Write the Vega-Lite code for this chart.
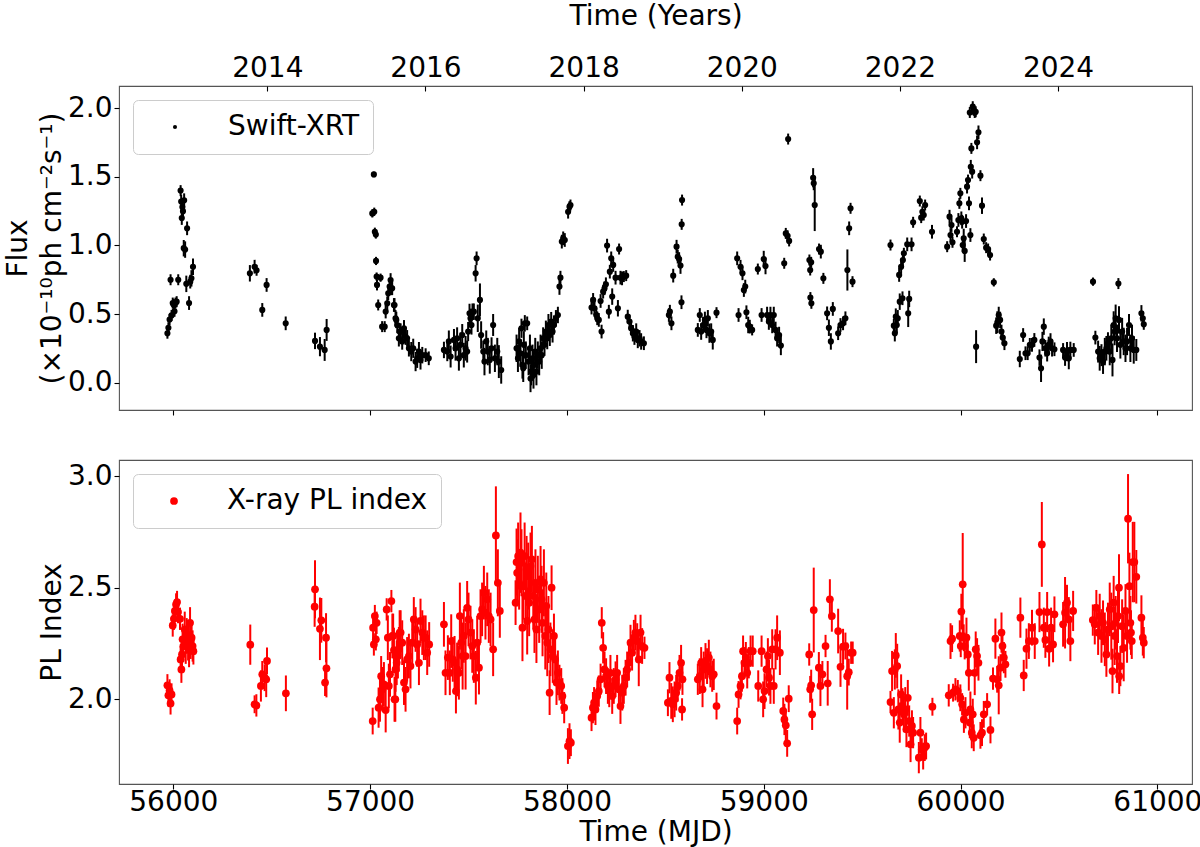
{
"$schema": "https://vega.github.io/schema/vega-lite/v6.json",
"background": "white",
"padding": {"left": 4, "top": 2, "right": 0, "bottom": 0},
"config": {
  "font": "DejaVu Sans",
  "view": {"stroke": "#555555", "strokeWidth": 1.1},
  "axis": {"labelFont": "DejaVu Sans", "labelFontSize": 28, "labelColor": "black", "titleFont": "DejaVu Sans", "titleFontSize": 28, "titleFontWeight": "normal", "titleColor": "black", "tickColor": "black", "tickSize": 5, "tickWidth": 1.1, "domain": false, "grid": false, "labelPadding": 2, "titlePadding": 1, "titleLineHeight": 33.5},
  "legend": {"labelFont": "DejaVu Sans", "labelFontSize": 28, "labelColor": "black", "labelLimit": 500, "orient": "top-left", "offset": 14, "padding": 13, "strokeColor": "#cccccc", "strokeWidth": 1, "cornerRadius": 5, "fillColor": "white", "symbolType": "circle", "symbolStrokeWidth": 0, "labelOffset": 39}
},
"datasets": {
"flux": [
{"t":55970,"f":0.36,"e":0.04},{"t":55975,"f":0.40,"e":0.04},{"t":55981,"f":0.46,"e":0.04},{"t":55986,"f":0.75,"e":0.04},{"t":55991,"f":0.49,"e":0.04},{"t":55997,"f":0.58,"e":0.04},{"t":56001,"f":0.57,"e":0.04},{"t":56006,"f":0.52,"e":0.04},{"t":56011,"f":0.58,"e":0.04},{"t":56017,"f":0.59,"e":0.04},{"t":56025,"f":0.75,"e":0.04},{"t":56037,"f":1.40,"e":0.04},{"t":56040,"f":1.32,"e":0.05},{"t":56043,"f":1.20,"e":0.05},{"t":56046,"f":1.28,"e":0.05},{"t":56049,"f":1.25,"e":0.05},{"t":56053,"f":0.98,"e":0.06},{"t":56055,"f":1.33,"e":0.05},{"t":56060,"f":0.97,"e":0.06},{"t":56066,"f":0.72,"e":0.06},{"t":56070,"f":1.125,"e":0.05},{"t":56080,"f":0.58,"e":0.05},{"t":56086,"f":0.736,"e":0.05},{"t":56092,"f":0.76,"e":0.06},{"t":56100,"f":0.845,"e":0.06},
{"t":56389,"f":0.797,"e":0.06},{"t":56413,"f":0.845,"e":0.05},{"t":56423,"f":0.819,"e":0.04},{"t":56452,"f":0.53,"e":0.05},{"t":56474,"f":0.712,"e":0.05},{"t":56571,"f":0.432,"e":0.05},{"t":56720,"f":0.304,"e":0.06},{"t":56745,"f":0.262,"e":0.07},{"t":56769,"f":0.238,"e":0.08},{"t":56779,"f":0.384,"e":0.08},
{"t":57011,"f":1.234,"e":0.03},{"t":57019,"f":1.518,"e":0.02},{"t":57021,"f":1.246,"e":0.03},{"t":57024,"f":1.10,"e":0.03},{"t":57029,"f":1.08,"e":0.03},{"t":57030,"f":0.887,"e":0.03},{"t":57033,"f":0.773,"e":0.03},{"t":57035,"f":0.712,"e":0.04},{"t":57041,"f":0.566,"e":0.04},{"t":57053,"f":0.765,"e":0.03},{"t":57061,"f":0.408,"e":0.04},{"t":57074,"f":0.408,"e":0.04},{"t":57079,"f":0.518,"e":0.05},{"t":57087,"f":0.578,"e":0.05},{"t":57092,"f":0.651,"e":0.05},{"t":57099,"f":0.70,"e":0.05},{"t":57104,"f":0.748,"e":0.05},{"t":57109,"f":0.688,"e":0.05},{"t":57112,"f":0.688,"e":0.05},{"t":57121,"f":0.566,"e":0.05},{"t":57124,"f":0.566,"e":0.05},{"t":57129,"f":0.469,"e":0.06},{"t":57133,"f":0.457,"e":0.06},{"t":57138,"f":0.42,"e":0.06},{"t":57146,"f":0.323,"e":0.06},{"t":57150,"f":0.372,"e":0.06},{"t":57155,"f":0.372,"e":0.06},{"t":57163,"f":0.30,"e":0.06},{"t":57172,"f":0.396,"e":0.06},{"t":57180,"f":0.335,"e":0.06},{"t":57188,"f":0.323,"e":0.06},{"t":57197,"f":0.25,"e":0.06},{"t":57209,"f":0.226,"e":0.07},{"t":57219,"f":0.25,"e":0.07},{"t":57231,"f":0.153,"e":0.07},{"t":57239,"f":0.177,"e":0.07},{"t":57248,"f":0.226,"e":0.07},{"t":57256,"f":0.165,"e":0.07},{"t":57265,"f":0.20,"e":0.06},{"t":57282,"f":0.20,"e":0.05},{"t":57298,"f":0.177,"e":0.05},
{"t":57375,"f":0.238,"e":0.06},{"t":57392,"f":0.226,"e":0.07},{"t":57400,"f":0.30,"e":0.08},{"t":57409,"f":0.19,"e":0.08},{"t":57426,"f":0.311,"e":0.08},{"t":57434,"f":0.25,"e":0.09},{"t":57442,"f":0.323,"e":0.08},{"t":57451,"f":0.177,"e":0.09},{"t":57459,"f":0.275,"e":0.09},{"t":57468,"f":0.347,"e":0.08},{"t":57476,"f":0.20,"e":0.09},{"t":57485,"f":0.25,"e":0.09},{"t":57493,"f":0.226,"e":0.08},{"t":57498,"f":0.372,"e":0.07},{"t":57505,"f":0.505,"e":0.07},{"t":57510,"f":0.469,"e":0.07},{"t":57515,"f":0.42,"e":0.07},{"t":57520,"f":0.517,"e":0.06},{"t":57527,"f":0.517,"e":0.06},{"t":57536,"f":0.797,"e":0.06},{"t":57541,"f":0.906,"e":0.05},{"t":57547,"f":0.469,"e":0.1},{"t":57558,"f":0.603,"e":0.12},{"t":57564,"f":0.347,"e":0.1},{"t":57575,"f":0.226,"e":0.08},{"t":57581,"f":0.153,"e":0.1},{"t":57590,"f":0.30,"e":0.08},{"t":57598,"f":0.226,"e":0.1},{"t":57608,"f":0.165,"e":0.1},{"t":57617,"f":0.25,"e":0.08},{"t":57625,"f":0.42,"e":0.08},{"t":57634,"f":0.177,"e":0.1},{"t":57646,"f":0.226,"e":0.1},{"t":57654,"f":0.153,"e":0.12},{"t":57666,"f":0.092,"e":0.1},
{"t":57744,"f":0.25,"e":0.1},{"t":57751,"f":0.177,"e":0.1},{"t":57757,"f":0.30,"e":0.1},{"t":57764,"f":0.214,"e":0.1},{"t":57769,"f":0.396,"e":0.07},{"t":57774,"f":0.129,"e":0.1},{"t":57778,"f":0.104,"e":0.1},{"t":57781,"f":0.275,"e":0.1},{"t":57786,"f":0.432,"e":0.06},{"t":57791,"f":0.20,"e":0.1},{"t":57798,"f":0.432,"e":0.05},{"t":57805,"f":0.153,"e":0.1},{"t":57812,"f":0.25,"e":0.1},{"t":57815,"f":0.03,"e":0.1},{"t":57818,"f":0.08,"e":0.1},{"t":57825,"f":0.177,"e":0.1},{"t":57830,"f":0.056,"e":0.1},{"t":57832,"f":0.129,"e":0.1},{"t":57839,"f":0.226,"e":0.1},{"t":57845,"f":0.08,"e":0.1},{"t":57852,"f":0.20,"e":0.1},{"t":57859,"f":0.153,"e":0.1},{"t":57866,"f":0.25,"e":0.1},{"t":57872,"f":0.20,"e":0.1},{"t":57879,"f":0.323,"e":0.08},{"t":57886,"f":0.275,"e":0.08},{"t":57893,"f":0.372,"e":0.08},{"t":57900,"f":0.323,"e":0.08},{"t":57906,"f":0.42,"e":0.08},{"t":57913,"f":0.347,"e":0.08},{"t":57920,"f":0.445,"e":0.07},{"t":57927,"f":0.372,"e":0.08},{"t":57934,"f":0.42,"e":0.07},{"t":57944,"f":0.469,"e":0.06},{"t":57954,"f":0.493,"e":0.06},{"t":57962,"f":0.70,"e":0.06},{"t":57967,"f":0.765,"e":0.05},{"t":57974,"f":1.028,"e":0.05},{"t":57981,"f":1.052,"e":0.05},{"t":57989,"f":1.04,"e":0.05},{"t":58006,"f":1.246,"e":0.05},{"t":58013,"f":1.283,"e":0.04},{"t":58018,"f":1.295,"e":0.04},
{"t":58125,"f":0.547,"e":0.05},{"t":58133,"f":0.603,"e":0.05},{"t":58140,"f":0.542,"e":0.05},{"t":58149,"f":0.493,"e":0.05},{"t":58154,"f":0.469,"e":0.05},{"t":58162,"f":0.457,"e":0.05},{"t":58171,"f":0.595,"e":0.05},{"t":58176,"f":0.372,"e":0.05},{"t":58184,"f":0.663,"e":0.05},{"t":58191,"f":0.688,"e":0.05},{"t":58198,"f":0.717,"e":0.05},{"t":58204,"f":0.999,"e":0.05},{"t":58213,"f":0.517,"e":0.05},{"t":58218,"f":0.809,"e":0.05},{"t":58225,"f":0.906,"e":0.05},{"t":58230,"f":0.627,"e":0.06},{"t":58235,"f":0.858,"e":0.05},{"t":58247,"f":0.765,"e":0.05},{"t":58259,"f":0.542,"e":0.06},{"t":58265,"f":0.974,"e":0.04},{"t":58272,"f":0.765,"e":0.05},{"t":58280,"f":0.76,"e":0.05},{"t":58289,"f":0.773,"e":0.04},{"t":58301,"f":0.78,"e":0.04},{"t":58309,"f":0.481,"e":0.05},{"t":58318,"f":0.445,"e":0.05},{"t":58326,"f":0.396,"e":0.05},{"t":58335,"f":0.36,"e":0.06},{"t":58343,"f":0.335,"e":0.06},{"t":58352,"f":0.372,"e":0.06},{"t":58360,"f":0.311,"e":0.06},{"t":58369,"f":0.323,"e":0.06},{"t":58377,"f":0.30,"e":0.06},{"t":58391,"f":0.287,"e":0.05},
{"t":58518,"f":0.493,"e":0.05},{"t":58523,"f":0.517,"e":0.05},{"t":58531,"f":0.432,"e":0.05},{"t":58540,"f":0.78,"e":0.05},{"t":58557,"f":0.991,"e":0.05},{"t":58563,"f":0.918,"e":0.05},{"t":58570,"f":0.901,"e":0.05},{"t":58577,"f":0.853,"e":0.06},{"t":58582,"f":0.586,"e":0.05},{"t":58583,"f":1.154,"e":0.04},{"t":58585,"f":1.331,"e":0.04},{"t":58665,"f":0.384,"e":0.05},{"t":58675,"f":0.493,"e":0.05},{"t":58682,"f":0.372,"e":0.06},{"t":58692,"f":0.42,"e":0.06},{"t":58701,"f":0.457,"e":0.06},{"t":58709,"f":0.384,"e":0.06},{"t":58716,"f":0.469,"e":0.06},{"t":58724,"f":0.36,"e":0.07},{"t":58733,"f":0.372,"e":0.06},{"t":58741,"f":0.311,"e":0.07},{"t":58760,"f":0.51,"e":0.04},
{"t":58865,"f":0.906,"e":0.05},{"t":58872,"f":0.493,"e":0.05},{"t":58882,"f":0.845,"e":0.05},{"t":58892,"f":0.797,"e":0.05},{"t":58899,"f":0.675,"e":0.05},{"t":58906,"f":0.70,"e":0.05},{"t":58912,"f":0.513,"e":0.05},{"t":58921,"f":0.42,"e":0.06},{"t":58929,"f":0.408,"e":0.05},{"t":58941,"f":0.384,"e":0.04},{"t":58970,"f":0.828,"e":0.04},{"t":58989,"f":0.493,"e":0.05},{"t":59000,"f":0.901,"e":0.06},{"t":59009,"f":0.85,"e":0.06},{"t":59017,"f":0.493,"e":0.06},{"t":59026,"f":0.445,"e":0.06},{"t":59034,"f":0.493,"e":0.06},{"t":59043,"f":0.42,"e":0.06},{"t":59051,"f":0.493,"e":0.06},{"t":59060,"f":0.384,"e":0.06},{"t":59068,"f":0.323,"e":0.06},{"t":59078,"f":0.347,"e":0.06},{"t":59087,"f":0.27,"e":0.07},{"t":59104,"f":0.87,"e":0.04},{"t":59112,"f":1.088,"e":0.04},{"t":59121,"f":1.071,"e":0.04},{"t":59124,"f":1.776,"e":0.04},{"t":59129,"f":1.033,"e":0.04},
{"t":59232,"f":0.894,"e":0.04},{"t":59236,"f":0.821,"e":0.04},{"t":59237,"f":0.62,"e":0.04},{"t":59241,"f":0.877,"e":0.04},{"t":59242,"f":0.578,"e":0.04},{"t":59251,"f":1.494,"e":0.07},{"t":59254,"f":1.453,"e":0.05},{"t":59259,"f":1.295,"e":0.19},{"t":59281,"f":0.974,"e":0.04},{"t":59290,"f":0.955,"e":0.05},{"t":59303,"f":0.76,"e":0.04},{"t":59322,"f":0.505,"e":0.05},{"t":59331,"f":0.40,"e":0.06},{"t":59341,"f":0.30,"e":0.06},{"t":59351,"f":0.537,"e":0.05},{"t":59378,"f":0.36,"e":0.05},{"t":59390,"f":0.42,"e":0.05},{"t":59403,"f":0.432,"e":0.05},{"t":59415,"f":0.469,"e":0.05},{"t":59425,"f":0.821,"e":0.15},{"t":59434,"f":1.125,"e":0.05},{"t":59441,"f":1.271,"e":0.04},{"t":59451,"f":0.736,"e":0.04},
{"t":59644,"f":1.003,"e":0.04},{"t":59661,"f":0.415,"e":0.05},{"t":59666,"f":0.36,"e":0.06},{"t":59671,"f":0.481,"e":0.06},{"t":59676,"f":0.42,"e":0.06},{"t":59681,"f":0.469,"e":0.06},{"t":59688,"f":0.785,"e":0.05},{"t":59691,"f":0.59,"e":0.06},{"t":59698,"f":0.845,"e":0.05},{"t":59705,"f":0.615,"e":0.05},{"t":59707,"f":0.894,"e":0.05},{"t":59712,"f":0.943,"e":0.04},{"t":59729,"f":1.008,"e":0.05},{"t":59734,"f":0.505,"e":0.1},{"t":59739,"f":0.61,"e":0.06},{"t":59751,"f":1.008,"e":0.05},{"t":59759,"f":1.169,"e":0.04},{"t":59793,"f":1.324,"e":0.04},{"t":59800,"f":1.203,"e":0.04},{"t":59806,"f":1.246,"e":0.04},{"t":59813,"f":1.222,"e":0.04},{"t":59820,"f":1.295,"e":0.04},{"t":59855,"f":1.10,"e":0.05},{"t":59932,"f":0.991,"e":0.04},{"t":59944,"f":1.21,"e":0.05},{"t":59949,"f":1.076,"e":0.05},{"t":59954,"f":1.149,"e":0.05},{"t":59959,"f":1.023,"e":0.04},{"t":59982,"f":1.10,"e":0.04},{"t":59989,"f":1.186,"e":0.05},{"t":59994,"f":1.307,"e":0.04},{"t":59999,"f":1.38,"e":0.04},{"t":60004,"f":1.198,"e":0.05},{"t":60008,"f":1.173,"e":0.05},{"t":60011,"f":1.003,"e":0.05},{"t":60016,"f":1.052,"e":0.07},{"t":60021,"f":0.96,"e":0.08},{"t":60028,"f":1.178,"e":0.05},{"t":60033,"f":1.429,"e":0.05},{"t":60038,"f":1.477,"e":0.04},{"t":60043,"f":1.307,"e":0.05},{"t":60047,"f":1.97,"e":0.04},{"t":60050,"f":1.076,"e":0.05},{"t":60052,"f":1.574,"e":0.05},{"t":60055,"f":1.708,"e":0.04},{"t":60059,"f":1.538,"e":0.05},{"t":60062,"f":2.012,"e":0.04},{"t":60067,"f":1.987,"e":0.04},{"t":60072,"f":1.97,"e":0.04},{"t":60077,"f":1.975,"e":0.04},{"t":60079,"f":0.262,"e":0.12},{"t":60084,"f":1.752,"e":0.05},{"t":60091,"f":1.825,"e":0.05},{"t":60101,"f":1.509,"e":0.04},{"t":60109,"f":1.29,"e":0.06},{"t":60118,"f":1.047,"e":0.04},{"t":60130,"f":0.984,"e":0.04},{"t":60140,"f":0.974,"e":0.04},{"t":60150,"f":0.93,"e":0.04},{"t":60169,"f":0.731,"e":0.03},{"t":60181,"f":0.415,"e":0.06},{"t":60187,"f":0.44,"e":0.08},{"t":60194,"f":0.493,"e":0.06},{"t":60201,"f":0.457,"e":0.06},{"t":60208,"f":0.372,"e":0.05},{"t":60214,"f":0.328,"e":0.05},{"t":60223,"f":0.287,"e":0.05},
{"t":60301,"f":0.172,"e":0.06},{"t":60318,"f":0.347,"e":0.05},{"t":60330,"f":0.214,"e":0.05},{"t":60341,"f":0.214,"e":0.05},{"t":60352,"f":0.275,"e":0.05},{"t":60363,"f":0.275,"e":0.05},{"t":60375,"f":0.311,"e":0.05},{"t":60401,"f":0.182,"e":0.06},{"t":60409,"f":0.104,"e":0.1},{"t":60416,"f":0.30,"e":0.07},{"t":60423,"f":0.408,"e":0.06},{"t":60431,"f":0.25,"e":0.06},{"t":60440,"f":0.214,"e":0.06},{"t":60448,"f":0.275,"e":0.06},{"t":60457,"f":0.30,"e":0.06},{"t":60465,"f":0.25,"e":0.06},{"t":60477,"f":0.243,"e":0.05},{"t":60521,"f":0.238,"e":0.05},{"t":60531,"f":0.182,"e":0.06},{"t":60541,"f":0.226,"e":0.07},{"t":60550,"f":0.177,"e":0.08},{"t":60558,"f":0.238,"e":0.06},{"t":60575,"f":0.238,"e":0.05},
{"t":60673,"f":0.736,"e":0.03},{"t":60685,"f":0.328,"e":0.05},{"t":60699,"f":0.226,"e":0.08},{"t":60707,"f":0.177,"e":0.09},{"t":60716,"f":0.20,"e":0.08},{"t":60724,"f":0.153,"e":0.09},{"t":60733,"f":0.226,"e":0.1},{"t":60741,"f":0.25,"e":0.09},{"t":60749,"f":0.287,"e":0.08},{"t":60758,"f":0.226,"e":0.1},{"t":60766,"f":0.323,"e":0.1},{"t":60772,"f":0.165,"e":0.12},{"t":60778,"f":0.42,"e":0.1},{"t":60783,"f":0.372,"e":0.1},{"t":60788,"f":0.469,"e":0.1},{"t":60795,"f":0.323,"e":0.1},{"t":60802,"f":0.722,"e":0.04},{"t":60805,"f":0.457,"e":0.1},{"t":60812,"f":0.275,"e":0.1},{"t":60821,"f":0.372,"e":0.1},{"t":60829,"f":0.30,"e":0.1},{"t":60838,"f":0.25,"e":0.1},{"t":60846,"f":0.30,"e":0.1},{"t":60856,"f":0.42,"e":0.08},{"t":60863,"f":0.25,"e":0.1},{"t":60871,"f":0.323,"e":0.1},{"t":60880,"f":0.238,"e":0.1},{"t":60893,"f":0.238,"e":0.08},{"t":60919,"f":0.505,"e":0.06},{"t":60926,"f":0.469,"e":0.05},{"t":60931,"f":0.425,"e":0.04}
],
"idx": [
{"t":55970,"i":2.063,"e":0.05},{"t":55975,"i":2.018,"e":0.05},{"t":55981,"i":2.04,"e":0.05},{"t":55986,"i":1.982,"e":0.05},{"t":55991,"i":2.022,"e":0.05},{"t":55997,"i":2.331,"e":0.05},{"t":56003,"i":2.361,"e":0.05},{"t":56008,"i":2.396,"e":0.05},{"t":56014,"i":2.425,"e":0.05},{"t":56019,"i":2.436,"e":0.05},{"t":56024,"i":2.391,"e":0.05},{"t":56034,"i":2.361,"e":0.05},{"t":56037,"i":2.179,"e":0.06},{"t":56041,"i":2.134,"e":0.06},{"t":56044,"i":2.201,"e":0.06},{"t":56047,"i":2.269,"e":0.07},{"t":56051,"i":2.239,"e":0.07},{"t":56058,"i":2.313,"e":0.08},{"t":56063,"i":2.239,"e":0.08},{"t":56068,"i":2.284,"e":0.08},{"t":56075,"i":2.254,"e":0.08},{"t":56080,"i":2.224,"e":0.08},{"t":56085,"i":2.343,"e":0.07},{"t":56088,"i":2.261,"e":0.08},{"t":56093,"i":2.276,"e":0.07},{"t":56098,"i":2.239,"e":0.07},{"t":56102,"i":2.216,"e":0.06},
{"t":56391,"i":2.245,"e":0.09},{"t":56413,"i":1.978,"e":0.04},{"t":56422,"i":1.973,"e":0.05},{"t":56445,"i":2.06,"e":0.07},{"t":56452,"i":2.112,"e":0.06},{"t":56464,"i":2.097,"e":0.06},{"t":56472,"i":2.09,"e":0.08},{"t":56476,"i":2.172,"e":0.06},{"t":56572,"i":2.027,"e":0.08},{"t":56718,"i":2.415,"e":0.09},{"t":56720,"i":2.493,"e":0.13},{"t":56745,"i":2.316,"e":0.14},{"t":56752,"i":2.354,"e":0.1},{"t":56771,"i":2.075,"e":0.06},{"t":56776,"i":2.276,"e":0.11},{"t":56778,"i":2.139,"e":0.13},
{"t":57013,"i":1.903,"e":0.06},{"t":57015,"i":2.321,"e":0.06},{"t":57019,"i":2.246,"e":0.05},{"t":57024,"i":2.373,"e":0.05},{"t":57029,"i":2.269,"e":0.05},{"t":57033,"i":2.343,"e":0.05},{"t":57043,"i":1.963,"e":0.09},{"t":57050,"i":2.0,"e":0.1},{"t":57056,"i":2.104,"e":0.09},{"t":57063,"i":2.045,"e":0.1},{"t":57070,"i":2.067,"e":0.1},{"t":57079,"i":1.952,"e":0.1},{"t":57084,"i":2.403,"e":0.05},{"t":57090,"i":2.276,"e":0.1},{"t":57095,"i":2.06,"e":0.1},{"t":57101,"i":2.112,"e":0.1},{"t":57108,"i":2.44,"e":0.05},{"t":57113,"i":2.284,"e":0.1},{"t":57117,"i":2.284,"e":0.1},{"t":57121,"i":2.221,"e":0.1},{"t":57124,"i":2.0,"e":0.1},{"t":57128,"i":2.0,"e":0.1},{"t":57129,"i":2.134,"e":0.1},{"t":57135,"i":2.164,"e":0.1},{"t":57138,"i":2.194,"e":0.1},{"t":57141,"i":2.194,"e":0.1},{"t":57146,"i":2.224,"e":0.1},{"t":57150,"i":2.299,"e":0.1},{"t":57155,"i":2.299,"e":0.1},{"t":57163,"i":2.254,"e":0.1},{"t":57172,"i":2.075,"e":0.1},{"t":57180,"i":2.045,"e":0.1},{"t":57188,"i":2.179,"e":0.1},{"t":57197,"i":2.194,"e":0.1},{"t":57205,"i":2.149,"e":0.1},{"t":57214,"i":2.254,"e":0.1},{"t":57222,"i":2.358,"e":0.1},{"t":57231,"i":2.313,"e":0.1},{"t":57239,"i":2.246,"e":0.1},{"t":57248,"i":2.164,"e":0.1},{"t":57256,"i":2.351,"e":0.1},{"t":57265,"i":2.299,"e":0.1},{"t":57273,"i":2.276,"e":0.1},{"t":57282,"i":2.276,"e":0.1},{"t":57290,"i":2.209,"e":0.1},{"t":57300,"i":2.246,"e":0.1},
{"t":57375,"i":2.336,"e":0.1},{"t":57383,"i":2.119,"e":0.1},{"t":57395,"i":2.187,"e":0.1},{"t":57405,"i":2.119,"e":0.1},{"t":57412,"i":2.261,"e":0.12},{"t":57420,"i":2.179,"e":0.1},{"t":57429,"i":2.164,"e":0.12},{"t":57436,"i":2.037,"e":0.1},{"t":57442,"i":2.134,"e":0.12},{"t":57451,"i":2.119,"e":0.12},{"t":57456,"i":2.373,"e":0.15},{"t":57463,"i":2.254,"e":0.12},{"t":57470,"i":2.194,"e":0.15},{"t":57476,"i":2.284,"e":0.12},{"t":57485,"i":2.194,"e":0.15},{"t":57493,"i":2.41,"e":0.12},{"t":57500,"i":2.358,"e":0.12},{"t":57510,"i":2.299,"e":0.12},{"t":57519,"i":2.239,"e":0.12},{"t":57527,"i":2.194,"e":0.12},{"t":57537,"i":2.097,"e":0.12},{"t":57544,"i":2.254,"e":0.12},{"t":57553,"i":2.142,"e":0.12},{"t":57561,"i":2.373,"e":0.12},{"t":57569,"i":2.403,"e":0.12},{"t":57578,"i":2.478,"e":0.12},{"t":57586,"i":2.388,"e":0.12},{"t":57595,"i":2.448,"e":0.12},{"t":57603,"i":2.373,"e":0.12},{"t":57612,"i":2.358,"e":0.12},{"t":57625,"i":2.224,"e":0.12},{"t":57639,"i":2.734,"e":0.22},{"t":57649,"i":2.522,"e":0.15},{"t":57659,"i":2.396,"e":0.12},
{"t":57739,"i":2.433,"e":0.1},{"t":57744,"i":2.615,"e":0.15},{"t":57747,"i":2.567,"e":0.15},{"t":57752,"i":2.642,"e":0.15},{"t":57757,"i":2.522,"e":0.12},{"t":57764,"i":2.657,"e":0.18},{"t":57769,"i":2.612,"e":0.15},{"t":57774,"i":2.321,"e":0.15},{"t":57778,"i":2.507,"e":0.15},{"t":57785,"i":2.642,"e":0.15},{"t":57790,"i":2.463,"e":0.15},{"t":57795,"i":2.582,"e":0.15},{"t":57798,"i":2.351,"e":0.15},{"t":57803,"i":2.552,"e":0.15},{"t":57808,"i":2.433,"e":0.15},{"t":57815,"i":2.597,"e":0.15},{"t":57822,"i":2.627,"e":0.15},{"t":57829,"i":2.463,"e":0.15},{"t":57835,"i":2.358,"e":0.15},{"t":57840,"i":2.522,"e":0.15},{"t":57845,"i":2.313,"e":0.15},{"t":57852,"i":2.493,"e":0.15},{"t":57859,"i":2.403,"e":0.15},{"t":57866,"i":2.537,"e":0.15},{"t":57871,"i":2.448,"e":0.15},{"t":57876,"i":2.343,"e":0.15},{"t":57883,"i":2.522,"e":0.15},{"t":57890,"i":2.284,"e":0.15},{"t":57895,"i":2.418,"e":0.15},{"t":57900,"i":2.254,"e":0.15},{"t":57906,"i":2.313,"e":0.15},{"t":57912,"i":2.03,"e":0.1},{"t":57916,"i":2.224,"e":0.12},{"t":57922,"i":2.5,"e":0.1},{"t":57928,"i":2.194,"e":0.12},{"t":57934,"i":2.284,"e":0.1},{"t":57940,"i":2.179,"e":0.1},{"t":57947,"i":2.075,"e":0.1},{"t":57954,"i":2.119,"e":0.1},{"t":57962,"i":2.075,"e":0.08},{"t":57971,"i":2.06,"e":0.08},{"t":57977,"i":2.015,"e":0.08},{"t":57986,"i":1.963,"e":0.07},{"t":58005,"i":1.791,"e":0.08},{"t":58013,"i":1.813,"e":0.08},{"t":58020,"i":1.806,"e":0.06},
{"t":58125,"i":1.918,"e":0.06},{"t":58132,"i":1.963,"e":0.07},{"t":58138,"i":1.985,"e":0.07},{"t":58145,"i":1.955,"e":0.07},{"t":58154,"i":2.015,"e":0.07},{"t":58162,"i":2.037,"e":0.07},{"t":58171,"i":2.09,"e":0.07},{"t":58177,"i":2.343,"e":0.07},{"t":58184,"i":2.231,"e":0.07},{"t":58191,"i":2.134,"e":0.08},{"t":58199,"i":2.104,"e":0.08},{"t":58208,"i":2.06,"e":0.08},{"t":58215,"i":2.045,"e":0.08},{"t":58221,"i":2.119,"e":0.08},{"t":58230,"i":2.015,"e":0.08},{"t":58238,"i":2.06,"e":0.08},{"t":58247,"i":2.09,"e":0.08},{"t":58255,"i":2.119,"e":0.08},{"t":58264,"i":2.045,"e":0.08},{"t":58272,"i":1.97,"e":0.08},{"t":58281,"i":2.03,"e":0.08},{"t":58289,"i":2.06,"e":0.08},{"t":58298,"i":2.097,"e":0.08},{"t":58306,"i":2.134,"e":0.08},{"t":58315,"i":2.164,"e":0.08},{"t":58323,"i":2.254,"e":0.08},{"t":58331,"i":2.209,"e":0.08},{"t":58340,"i":2.276,"e":0.08},{"t":58348,"i":2.299,"e":0.08},{"t":58357,"i":2.261,"e":0.08},{"t":58365,"i":2.179,"e":0.12},{"t":58374,"i":2.299,"e":0.08},{"t":58382,"i":2.239,"e":0.08},{"t":58394,"i":2.231,"e":0.05},
{"t":58513,"i":1.985,"e":0.06},{"t":58521,"i":2.097,"e":0.07},{"t":58530,"i":1.993,"e":0.08},{"t":58538,"i":1.978,"e":0.08},{"t":58547,"i":2.0,"e":0.08},{"t":58555,"i":2.03,"e":0.08},{"t":58563,"i":2.06,"e":0.07},{"t":58572,"i":2.119,"e":0.08},{"t":58580,"i":2.164,"e":0.08},{"t":58585,"i":1.955,"e":0.05},{"t":58587,"i":2.09,"e":0.07},{"t":58665,"i":2.09,"e":0.07},{"t":58675,"i":2.104,"e":0.08},{"t":58682,"i":2.164,"e":0.07},{"t":58689,"i":2.045,"e":0.08},{"t":58695,"i":2.134,"e":0.08},{"t":58704,"i":2.172,"e":0.08},{"t":58712,"i":2.149,"e":0.08},{"t":58721,"i":2.187,"e":0.08},{"t":58729,"i":2.134,"e":0.08},{"t":58738,"i":2.104,"e":0.07},{"t":58746,"i":2.112,"e":0.07},{"t":58760,"i":1.97,"e":0.06},
{"t":58865,"i":1.903,"e":0.06},{"t":58872,"i":2.022,"e":0.06},{"t":58882,"i":2.06,"e":0.06},{"t":58889,"i":2.104,"e":0.07},{"t":58895,"i":2.216,"e":0.07},{"t":58902,"i":2.164,"e":0.07},{"t":58909,"i":2.187,"e":0.07},{"t":58916,"i":2.119,"e":0.07},{"t":58924,"i":2.164,"e":0.07},{"t":58933,"i":2.216,"e":0.07},{"t":58944,"i":2.216,"e":0.07},{"t":58972,"i":2.06,"e":0.07},{"t":58989,"i":2.216,"e":0.07},{"t":58997,"i":2.0,"e":0.08},{"t":59004,"i":2.037,"e":0.08},{"t":59014,"i":2.134,"e":0.08},{"t":59021,"i":2.194,"e":0.08},{"t":59027,"i":2.097,"e":0.08},{"t":59034,"i":2.06,"e":0.08},{"t":59043,"i":2.224,"e":0.09},{"t":59051,"i":2.06,"e":0.08},{"t":59060,"i":2.224,"e":0.09},{"t":59068,"i":2.276,"e":0.1},{"t":59082,"i":2.209,"e":0.1},{"t":59099,"i":1.948,"e":0.06},{"t":59105,"i":1.91,"e":0.07},{"t":59112,"i":1.884,"e":0.07},{"t":59119,"i":1.803,"e":0.06},{"t":59127,"i":2.003,"e":0.06},
{"t":59231,"i":2.201,"e":0.05},{"t":59236,"i":2.045,"e":0.06},{"t":59241,"i":2.063,"e":0.07},{"t":59246,"i":1.933,"e":0.07},{"t":59254,"i":2.4,"e":0.19},{"t":59280,"i":2.142,"e":0.07},{"t":59288,"i":2.06,"e":0.09},{"t":59298,"i":2.112,"e":0.06},{"t":59314,"i":2.239,"e":0.05},{"t":59325,"i":2.072,"e":0.1},{"t":59336,"i":2.448,"e":0.09},{"t":59346,"i":2.373,"e":0.07},{"t":59378,"i":2.306,"e":0.1},{"t":59390,"i":2.146,"e":0.09},{"t":59403,"i":2.236,"e":0.08},{"t":59415,"i":2.239,"e":0.06},{"t":59424,"i":2.104,"e":0.15},{"t":59432,"i":2.122,"e":0.06},{"t":59444,"i":2.209,"e":0.05},{"t":59452,"i":2.209,"e":0.05},
{"t":59644,"i":1.988,"e":0.05},{"t":59652,"i":2.127,"e":0.09},{"t":59661,"i":1.94,"e":0.07},{"t":59666,"i":2.134,"e":0.09},{"t":59671,"i":2.197,"e":0.1},{"t":59678,"i":2.149,"e":0.1},{"t":59684,"i":1.955,"e":0.09},{"t":59691,"i":1.896,"e":0.09},{"t":59698,"i":2.022,"e":0.09},{"t":59705,"i":1.97,"e":0.08},{"t":59712,"i":1.933,"e":0.08},{"t":59719,"i":1.955,"e":0.1},{"t":59725,"i":1.866,"e":0.08},{"t":59732,"i":2.007,"e":0.08},{"t":59739,"i":1.903,"e":0.07},{"t":59746,"i":1.799,"e":0.08},{"t":59753,"i":1.881,"e":0.07},{"t":59759,"i":1.851,"e":0.07},{"t":59788,"i":1.739,"e":0.07},{"t":59796,"i":1.851,"e":0.07},{"t":59803,"i":1.776,"e":0.05},{"t":59810,"i":1.746,"e":0.06},{"t":59818,"i":1.784,"e":0.06},{"t":59825,"i":1.791,"e":0.06},{"t":59857,"i":1.967,"e":0.04},
{"t":59940,"i":2.018,"e":0.05},{"t":59949,"i":2.261,"e":0.08},{"t":59957,"i":2.272,"e":0.06},{"t":59962,"i":2.03,"e":0.04},{"t":59974,"i":2.045,"e":0.05},{"t":59986,"i":2.037,"e":0.05},{"t":59996,"i":2.284,"e":0.07},{"t":59999,"i":2.007,"e":0.06},{"t":60001,"i":2.239,"e":0.05},{"t":60004,"i":2.393,"e":0.08},{"t":60008,"i":1.978,"e":0.05},{"t":60011,"i":2.515,"e":0.23},{"t":60016,"i":2.276,"e":0.06},{"t":60017,"i":1.91,"e":0.06},{"t":60021,"i":2.239,"e":0.06},{"t":60025,"i":1.94,"e":0.07},{"t":60030,"i":2.276,"e":0.09},{"t":60037,"i":2.201,"e":0.09},{"t":60042,"i":2.119,"e":0.08},{"t":60047,"i":1.896,"e":0.07},{"t":60050,"i":1.955,"e":0.08},{"t":60057,"i":1.851,"e":0.07},{"t":60062,"i":1.933,"e":0.07},{"t":60067,"i":1.828,"e":0.06},{"t":60072,"i":2.119,"e":0.1},{"t":60077,"i":2.224,"e":0.08},{"t":60084,"i":2.194,"e":0.08},{"t":60091,"i":2.164,"e":0.08},{"t":60101,"i":1.839,"e":0.06},{"t":60109,"i":1.851,"e":0.06},{"t":60118,"i":1.933,"e":0.06},{"t":60135,"i":1.978,"e":0.05},{"t":60152,"i":1.863,"e":0.06},{"t":60165,"i":2.093,"e":0.05},{"t":60177,"i":2.272,"e":0.09},{"t":60186,"i":2.09,"e":0.06},{"t":60194,"i":2.063,"e":0.13},{"t":60203,"i":2.142,"e":0.06},{"t":60208,"i":2.299,"e":0.09},{"t":60213,"i":2.239,"e":0.07},{"t":60220,"i":2.187,"e":0.07},{"t":60228,"i":2.157,"e":0.06},
{"t":60304,"i":2.366,"e":0.09},{"t":60321,"i":2.107,"e":0.07},{"t":60335,"i":2.227,"e":0.09},{"t":60347,"i":2.261,"e":0.08},{"t":60363,"i":2.321,"e":0.08},{"t":60377,"i":2.261,"e":0.08},{"t":60401,"i":2.391,"e":0.09},{"t":60413,"i":2.694,"e":0.19},{"t":60423,"i":2.321,"e":0.09},{"t":60431,"i":2.266,"e":0.08},{"t":60440,"i":2.391,"e":0.09},{"t":60450,"i":2.227,"e":0.08},{"t":60460,"i":2.321,"e":0.09},{"t":60470,"i":2.246,"e":0.08},{"t":60477,"i":2.381,"e":0.08},{"t":60521,"i":2.336,"e":0.1},{"t":60531,"i":2.388,"e":0.16},{"t":60541,"i":2.433,"e":0.08},{"t":60550,"i":2.358,"e":0.1},{"t":60558,"i":2.261,"e":0.09},{"t":60572,"i":2.396,"e":0.09},
{"t":60672,"i":2.355,"e":0.07},{"t":60682,"i":2.336,"e":0.09},{"t":60690,"i":2.41,"e":0.08},{"t":60699,"i":2.299,"e":0.1},{"t":60707,"i":2.373,"e":0.1},{"t":60716,"i":2.284,"e":0.12},{"t":60724,"i":2.343,"e":0.1},{"t":60733,"i":2.269,"e":0.12},{"t":60741,"i":2.201,"e":0.1},{"t":60749,"i":2.313,"e":0.12},{"t":60758,"i":2.403,"e":0.12},{"t":60766,"i":2.328,"e":0.15},{"t":60772,"i":2.127,"e":0.1},{"t":60778,"i":2.433,"e":0.12},{"t":60783,"i":2.284,"e":0.13},{"t":60788,"i":2.343,"e":0.12},{"t":60795,"i":2.194,"e":0.12},{"t":60800,"i":2.373,"e":0.12},{"t":60805,"i":2.5,"e":0.15},{"t":60806,"i":2.104,"e":0.08},{"t":60812,"i":2.149,"e":0.09},{"t":60821,"i":2.328,"e":0.12},{"t":60829,"i":2.231,"e":0.15},{"t":60838,"i":2.396,"e":0.12},{"t":60846,"i":2.284,"e":0.12},{"t":60851,"i":2.809,"e":0.2},{"t":60858,"i":2.507,"e":0.15},{"t":60863,"i":2.343,"e":0.12},{"t":60866,"i":2.299,"e":0.1},{"t":60870,"i":2.261,"e":0.08},{"t":60875,"i":2.615,"e":0.18},{"t":60883,"i":2.615,"e":0.18},{"t":60893,"i":2.549,"e":0.12},{"t":60919,"i":2.366,"e":0.1},{"t":60926,"i":2.276,"e":0.08},{"t":60931,"i":2.254,"e":0.07}
],
"yrs": [{"yr":2014},{"yr":2016},{"yr":2018},{"yr":2020},{"yr":2022},{"yr":2024}]
},
"resolve": {"scale": {"color": "independent"}, "legend": {"color": "independent"}},
"spacing": 42,
"vconcat": [
{
  "width": 1073, "height": 324,
  "layer": [
    {
      "data": {"name": "flux"},
      "layer": [
        {
          "mark": {"type": "errorbar", "color": "black", "thickness": 2},
          "encoding": {
            "x": {"field": "t", "type": "quantitative", "scale": {"domain": [55724, 61176], "nice": false, "zero": false}, "axis": {"values": [56000, 57000, 58000, 59000, 60000, 61000], "labels": false, "title": null}},
            "y": {"field": "f", "type": "quantitative", "scale": {"domain": [-0.2, 2.163], "nice": false, "zero": false}, "axis": {"values": [0, 0.5, 1, 1.5, 2], "format": ".1f", "title": ["Flux", "(×10⁻¹⁰ph cm⁻²s⁻¹)"]}},
            "yError": {"field": "e"}
          }
        },
        {
          "mark": {"type": "point", "filled": true, "size": 38, "opacity": 1},
          "encoding": {
            "x": {"field": "t", "type": "quantitative"},
            "y": {"field": "f", "type": "quantitative"},
            "color": {"datum": "Swift-XRT", "scale": {"range": ["black"]}, "legend": {"title": null, "symbolSize": 17, "symbolOffset": 15, "labelOffset": 39}}
          }
        }
      ]
    },
    {
      "data": {"name": "yrs"},
      "mark": {"type": "tick", "opacity": 0},
      "encoding": {
        "x": {"field": "yr", "type": "quantitative", "scale": {"domain": [2012.124, 2025.694], "nice": false, "zero": false}, "axis": {"orient": "top", "values": [2014, 2016, 2018, 2020, 2022, 2024], "format": "d", "title": "Time (Years)", "tickSize": -5, "labelPadding": 8.4, "titlePadding": 24}}
      }
    }
  ],
  "resolve": {"scale": {"x": "independent"}, "axis": {"x": "independent"}}
},
{
  "width": 1073, "height": 324,
  "data": {"name": "idx"},
  "layer": [
    {
      "mark": {"type": "errorbar", "color": "#ff0000", "thickness": 2},
      "encoding": {
        "x": {"field": "t", "type": "quantitative", "scale": {"domain": [55724, 61176], "nice": false, "zero": false}, "axis": {"values": [56000, 57000, 58000, 59000, 60000, 61000], "format": "d", "title": "Time (MJD)", "labelPadding": -1, "titlePadding": 2}},
        "y": {"field": "i", "type": "quantitative", "scale": {"domain": [1.621, 3.072], "nice": false, "zero": false}, "axis": {"values": [2, 2.5, 3], "format": ".1f", "title": "PL Index"}},
        "yError": {"field": "e"}
      }
    },
    {
      "mark": {"type": "point", "filled": true, "size": 60, "opacity": 1},
      "encoding": {
        "x": {"field": "t", "type": "quantitative"},
        "y": {"field": "i", "type": "quantitative"},
        "color": {"datum": "X-ray PL index", "scale": {"range": ["#ff0000"]}, "legend": {"title": null, "symbolSize": 60, "symbolOffset": 14, "labelOffset": 39}}
      }
    }
  ]
}
]
}
